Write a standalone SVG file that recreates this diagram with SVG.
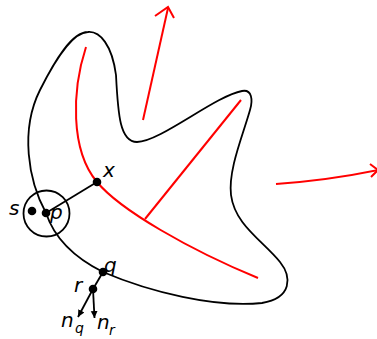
<svg xmlns="http://www.w3.org/2000/svg" width="377" height="339" viewBox="0 0 377 339">
<defs>
<style>
.blk{fill:none;stroke:#000;stroke-width:1.8}
.red{fill:none;stroke:#f00;stroke-width:2}
.dot{fill:#000}
.lbl{font-family:"DejaVu Sans",sans-serif;font-style:oblique;font-size:20px;fill:#000}
.sub{font-size:14px}
</style>
<marker id="ah" markerWidth="8" markerHeight="8" refX="7" refY="4" orient="auto" markerUnits="userSpaceOnUse">
<path d="M0,0.6 L7,4 L0,7.4 Z" fill="#000"/>
</marker>
</defs>
<g id="shape">
<path class="blk" d="M88,32 C100,31 112,45 116,75 C118,115 120,142 137,142 C160,142 215,96 242,91 C252,89 253,100 250,110 C243,135 228,170 231,195 C235,225 262,240 280,262 C292,277 292,298 262,303 C215,308 150,292 103,272 C75,258 55,240 46,213 C28,180 20,130 40,90 C55,60 72,32 88,32 Z"/>
</g>
<g id="skeleton">
<path class="red" d="M86,47 C72,90 70,150 97,182 C120,210 190,250 258,278"/>
<path class="red" d="M145,219 L241,100"/>
</g>
<g id="arrows-red">
<path class="red" d="M143,120 L168,8"/>
<path class="red" d="M155,16 L168,7 L174,18"/>
<path class="red" d="M276,184 Q330,180 378,170"/>
<path class="red" d="M370,164 L378,170 L371,177"/>
</g>
<g id="connectors">
<path class="blk" d="M46,213 L97,182"/>
<path class="blk" d="M103,272 L93,289"/>
<path class="blk" stroke-width="1.3" d="M93,289 L78,317" marker-end="url(#ah)"/>
<path class="blk" stroke-width="1.3" d="M93,289 L94.5,318" marker-end="url(#ah)"/>
</g>
<g id="ball">
<circle class="blk" cx="46.5" cy="213.5" r="23"/>
</g>
<g id="node-s"><circle class="dot" cx="32" cy="211" r="4.3"/><text class="lbl" x="9" y="215">s</text></g>
<g id="node-p"><circle class="dot" cx="46" cy="213" r="4.3"/><text class="lbl" x="50" y="219">p</text></g>
<g id="node-x"><circle class="dot" cx="97" cy="182" r="4.3"/><text class="lbl" x="103" y="177">x</text></g>
<g id="node-q"><circle class="dot" cx="103" cy="272" r="4.3"/><text class="lbl" x="104" y="272">q</text></g>
<g id="node-r"><circle class="dot" cx="93" cy="289" r="4.3"/><text class="lbl" x="74" y="292">r</text></g>
<g id="label-nq"><text class="lbl" x="61" y="327">n<tspan class="sub" x="75" y="333">q</tspan></text></g>
<g id="label-nr"><text class="lbl" x="97" y="329">n<tspan class="sub" x="109" y="335">r</tspan></text></g>
</svg>
